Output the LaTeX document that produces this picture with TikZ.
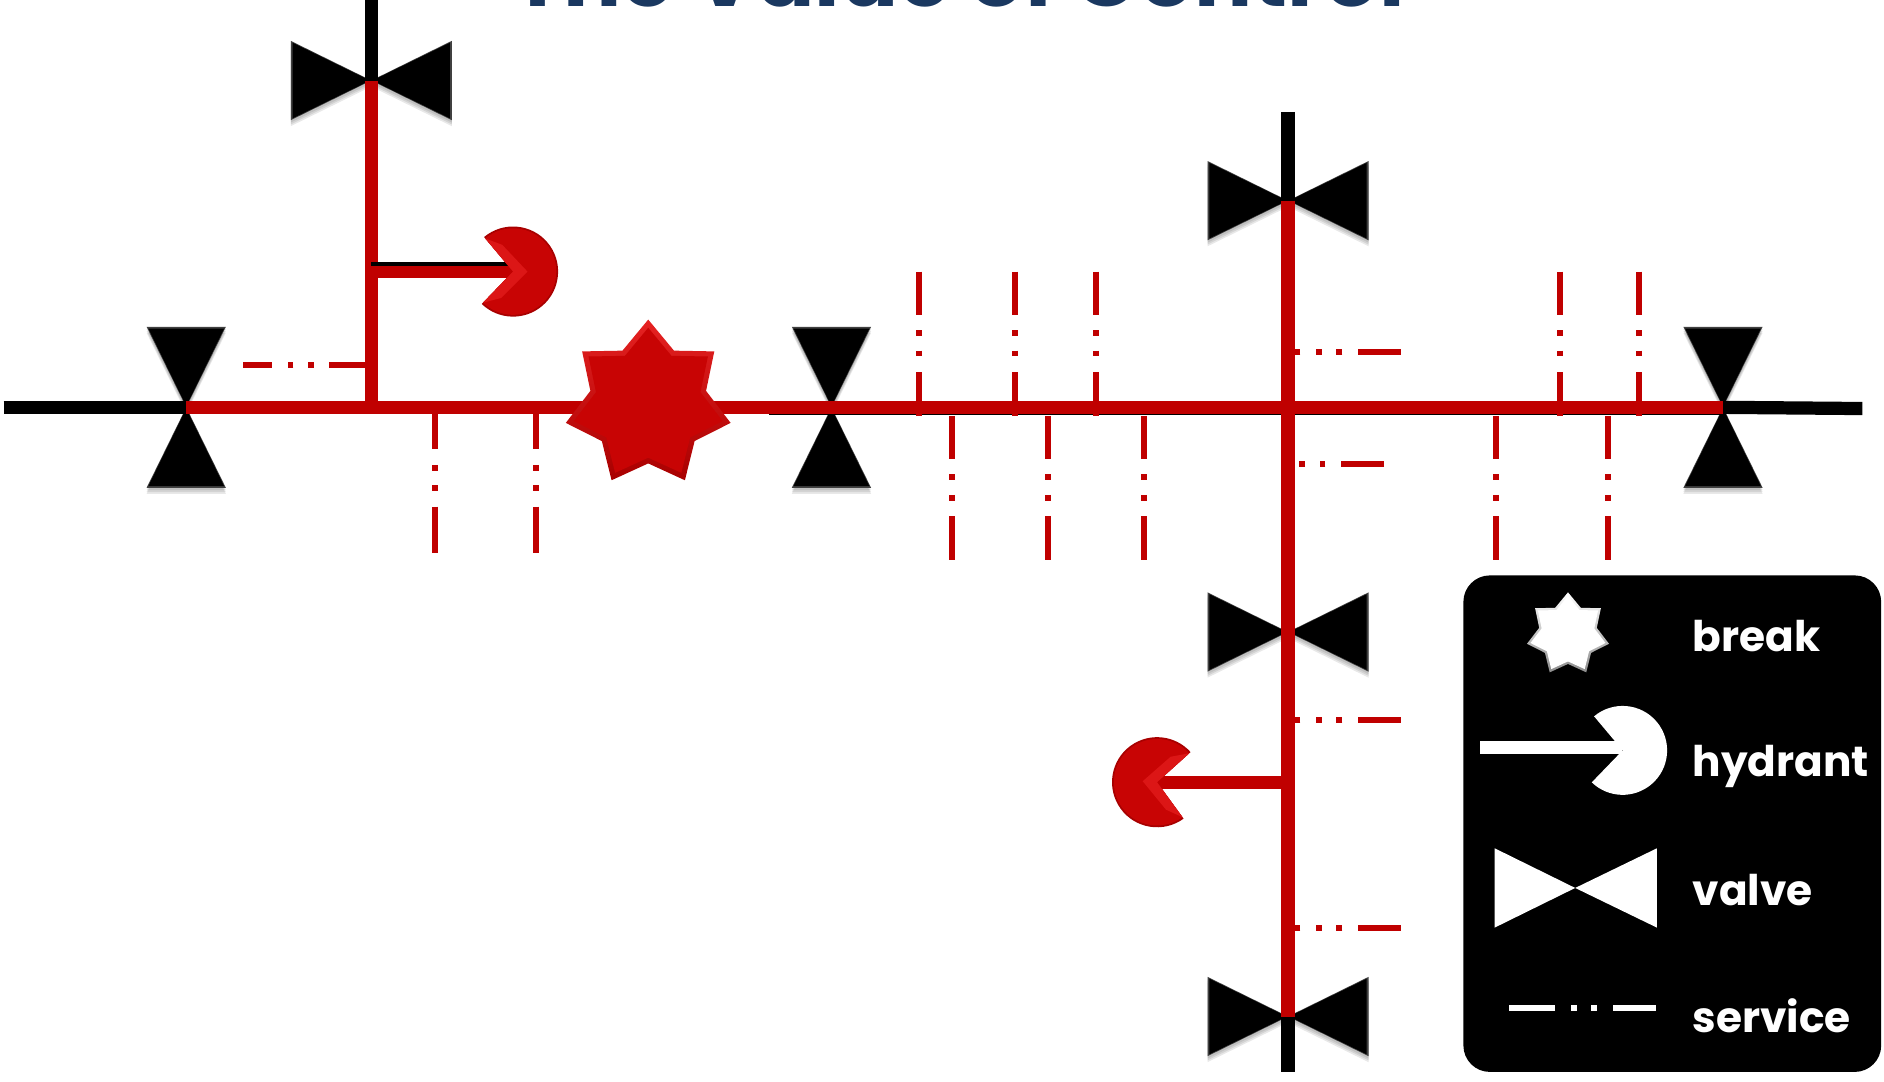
\documentclass[tikz,border=0pt]{standalone}
\usepackage{fontspec}
\setmainfont{Poppins}
\usetikzlibrary{shapes.geometric}
\definecolor{pipered}{HTML}{C00000}
\definecolor{starred}{HTML}{C80404}
\definecolor{bevelred}{HTML}{E62222}
\definecolor{softred}{HTML}{DC1616}
\definecolor{rimred}{HTML}{A80000}
\definecolor{titleblue}{HTML}{1A3860}

\begin{document}
\begin{tikzpicture}[
    x=0.01cm,y=-0.01cm,
    redpipe/.style={draw=pipered,line width=1.1mm},
    blackpipe/.style={draw=black,line width=1.1mm},
    service/.style={draw=pipered,line width=0.5mm,dash pattern=on 10.2pt off 3.7pt on 1.4pt off 3.4pt on 1.4pt off 3.7pt on 12pt},
    label/.style={text=white,font=\fontsize{10}{12}\selectfont\bfseries,anchor=base west,inner sep=0pt},
    breakstar/.style={star,star points=7,star point ratio=1.425,inner sep=0pt,minimum size=14.06mm},
    softedge/.style={black,opacity=.09},
    bowtie/.pic={
        \foreach \s in {2,3.5,5}
            \fill[softedge] (0,\s) -- (-67,-33+\s) -- (-67,33+\s) -- cycle (0,\s) -- (67,-33+\s) -- (67,33+\s) -- cycle;
        \fill[black!75] (0,0) -- (-67,-33) -- (-67,33) -- cycle (0,0) -- (67,-33) -- (67,33) -- cycle;
        \fill[black] (-1,0) -- (-65.5,-31.5) -- (-65.5,31.5) -- cycle (1,0) -- (65.5,-31.5) -- (65.5,31.5) -- cycle;
    },
    hourglass/.pic={
        \foreach \s in {2,3.5,5}
            \fill[softedge] (0,\s) -- (-33,-67+\s) -- (33,-67+\s) -- cycle (0,\s) -- (-33,67+\s) -- (33,67+\s) -- cycle;
        \fill[black!75] (0,0) -- (-33,-67) -- (33,-67) -- cycle (0,0) -- (-33,67) -- (33,67) -- cycle;
        \fill[black] (0,-1) -- (-31.5,-65.5) -- (31.5,-65.5) -- cycle (0,1) -- (-31.5,65.5) -- (31.5,65.5) -- cycle;
    },
    hydrant/.pic={
        \fill[rimred] (0,0) -- (-130:37.5) arc[start angle=-130,end angle=134,radius=37.5] -- cycle;
        \fill[starred] (0,0) -- (-130:36) arc[start angle=-130,end angle=134,radius=36] -- cycle;
        \fill[softred] (0,0) -- (-130:36) -- (-112:24) -- (12,0) -- (114:24) -- (134:36) -- cycle;
    },
    whitehydrant/.pic={
        \fill[white] (0,0) -- (-130:37) arc[start angle=-130,end angle=134,radius=37] -- cycle;
    }
]
\useasboundingbox (0,0) rectangle (1568,899.7);
\clip (0,0) rectangle (1568,899.7);

\node[text=titleblue,font=\fontsize{20.4}{22}\selectfont\bfseries,anchor=base,inner sep=0pt] (title) at (798,5) {The Value of Control};

% valves
\coordinate (vtop) at (309,67);
\coordinate (vleft) at (155,339);
\coordinate (vmid) at (692,339);
\coordinate (vright) at (1434,339);
\coordinate (vup) at (1072,167);
\coordinate (vdown) at (1072,526);
\coordinate (vend) at (1072,846);
\pic at (vtop) {bowtie};
\pic at (vleft) {hourglass};
\pic at (vmid) {hourglass};
\pic at (vright) {hourglass};
\pic at (vup) {bowtie};
\pic at (vdown) {bowtie};
\pic at (vend) {bowtie};

% free ends and junctions
\coordinate (west) at (3,339);
\coordinate (east) at (1550,340);
\coordinate (north) at (309,-5);
\coordinate (riser) at (1072,93);
\coordinate (foot) at (1072,892);
\coordinate (jtop) at (309,339);
\coordinate (jhyd) at (309,226.6);
\coordinate (hyda) at (430,226.6);
\coordinate (jhydb) at (1072,651);
\coordinate (hydb) at (963,651);

% mains
\draw[blackpipe] (west) -- (vleft);
\draw[blackpipe] (vright) -- (east);
\draw[blackpipe] (north) -- (vtop);
\draw[blackpipe] (riser) -- (vup);
\draw[blackpipe] (vend) -- (foot);
\draw[blackpipe] (640,339.7) -- (1434,339.7);
\draw[redpipe] (vleft) -- (vright);
\draw[redpipe] (vtop) -- (jtop);
\draw[redpipe] (vup) -- (vend);
\draw[draw=black,line width=.4mm] (309,220) -- (425,220);
\draw[redpipe,line width=1mm] (jhyd) -- (hyda);
\draw[redpipe] (jhydb) -- (hydb);

% services
\foreach \x in {362,446}
    \draw[service,dash phase=1.7pt] (\x,344) -- (\x,460);
\foreach \x in {792,872,952,1245,1338}
    \draw[service] (\x,346) -- (\x,466);
\foreach \x in {765,845,912,1298,1364}
    \draw[service] (\x,226) -- (\x,346);
\draw[service,dash phase=1.7pt] (304,304) -- (202,304);
\foreach \y/\e in {293/1166,386/1152,599/1166,772/1166}
    \draw[service] (\e,\y) -- (1072,\y);

% hydrants and break
\pic at (427,226) {hydrant};
\pic[rotate=176] at (hydb) {hydrant};
\node[breakstar,top color=bevelred,bottom color=rimred] (brk) at (539.5,336.3) {};
\node[breakstar,fill=starred,minimum size=12.7mm] (brkin) at (brk) {};

% legend
\node[fill=black,rounded corners=2.2mm,minimum width=34.75mm,minimum height=41.3mm,inner sep=0pt] (legend) at (1391.8,685.5) {};
\node[breakstar,top color=white,bottom color=black!45,minimum size=7mm] (lbreak) at (1305,528) {};
\node[breakstar,fill=white,minimum size=6.4mm] (lbreakin) at (lbreak) {};
\coordinate (lhyd) at (1350,622);
\coordinate (lhydstart) at (1232,622);
\pic at (1350.5,624.5) {whitehydrant};
\draw[draw=white,line width=1.05mm] (lhydstart) -- (lhyd);
\coordinate (lv) at (1311,739);
\fill[white] (lv) -- ++(-67,-33) -- ++(0,66) -- cycle (lv) -- ++(68,-33) -- ++(0,66) -- cycle;
\coordinate (lsa) at (1378,839);
\coordinate (lsb) at (1256,839);
\draw[service,draw=white] (lsa) -- (lsb);
\node[label] (lb) at (1408,542) {break};
\node[label] (lh) at (1408,646.6) {hydrant};
\node[label] (lw) at (1408,753.5) {valve};
\node[label] (ls) at (1408,859) {service};
\end{tikzpicture}
\end{document}
